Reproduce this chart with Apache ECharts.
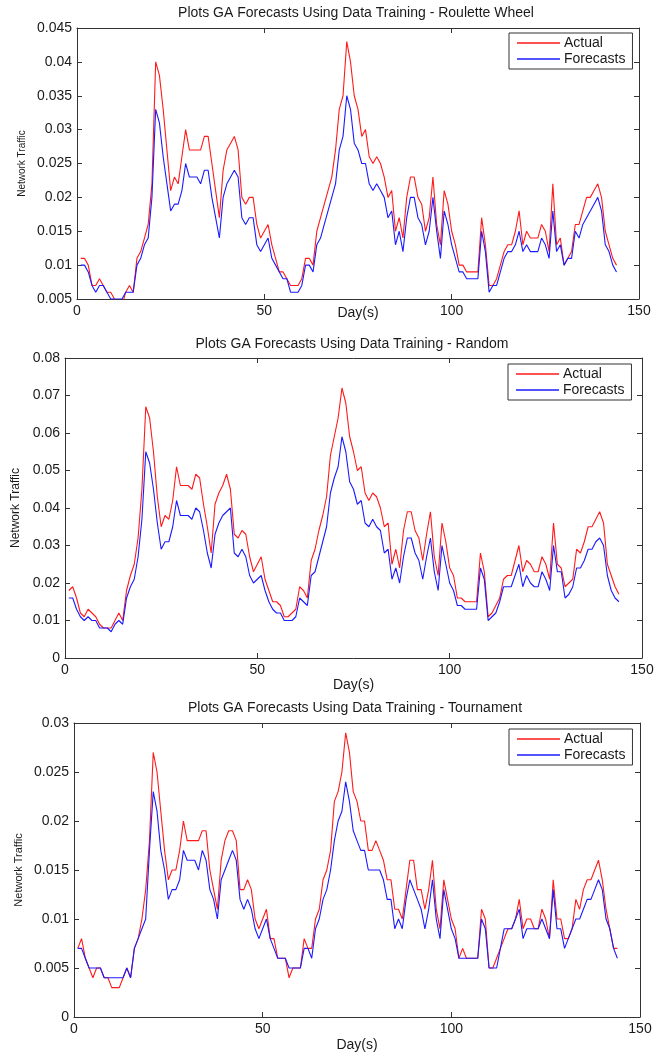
<!DOCTYPE html>
<html>
<head>
<meta charset="utf-8">
<script src="https://cdn.jsdelivr.net/npm/echarts@6/dist/echarts.min.js"></script>
<style>
html,body{margin:0;padding:0;background:#fff;}
#c{width:661px;height:1053px;}
</style>
</head>
<body>
<div id="c"></div>
<script>
// ---------------- data ----------------
const TITLES = [
  'Plots GA Forecasts Using Data Training - Roulette Wheel',
  'Plots GA Forecasts Using Data Training - Random',
  'Plots GA Forecasts Using Data Training - Tournament'
];
const SERIES_NAMES = ['Actual', 'Forecasts'];
const X_LABEL = 'Day(s)';
const Y_LABEL = 'Network Traffic';
const X_TICKS = [0, 50, 100, 150];
const Y_TICKS_1 = ['0.005','0.01','0.015','0.02','0.025','0.03','0.035','0.04','0.045'];
const Y_TICKS_2 = ['0','0.01','0.02','0.03','0.04','0.05','0.06','0.07','0.08'];
const Y_TICKS_3 = ['0','0.005','0.01','0.015','0.02','0.025','0.03'];

const ROULETTE_ACTUAL = [
 0.011,0.011,0.010,0.007,0.007,0.008,0.007,0.006,0.006,0.005,
 0.004,0.004,0.006,0.007,0.006,0.011,0.012,0.014,0.016,0.022,
 0.040,0.038,0.033,0.027,0.021,0.023,0.022,0.026,0.030,0.027,
 0.027,0.027,0.027,0.029,0.029,0.025,0.021,0.017,0.024,0.027,
 0.028,0.029,0.027,0.020,0.019,0.020,0.020,0.016,0.014,0.015,
 0.016,0.013,0.011,0.009,0.009,0.008,0.007,0.007,0.007,0.008,
 0.011,0.011,0.010,0.015,0.017,0.019,0.021,0.023,0.027,0.033,
 0.035,0.043,0.040,0.035,0.033,0.029,0.030,0.026,0.025,0.026,
 0.025,0.023,0.020,0.021,0.015,0.017,0.014,0.020,0.023,0.023,
 0.020,0.019,0.015,0.017,0.023,0.016,0.013,0.021,0.019,0.015,
 0.013,0.010,0.010,0.009,0.009,0.009,0.009,0.017,0.013,0.007,
 0.007,0.008,0.010,0.012,0.013,0.013,0.015,0.018,0.013,0.015,
 0.014,0.014,0.014,0.016,0.015,0.012,0.022,0.013,0.014,0.010,
 0.011,0.012,0.016,0.016,0.018,0.020,0.020,0.021,0.022,0.020,
 0.015,0.013,0.011,0.010];
const ROULETTE_FORECAST = [
 0.010,0.010,0.009,0.007,0.006,0.007,0.007,0.006,0.005,0.005,
 0.005,0.005,0.006,0.006,0.006,0.010,0.011,0.013,0.014,0.020,
 0.033,0.031,0.026,0.022,0.018,0.019,0.019,0.021,0.025,0.023,
 0.023,0.023,0.022,0.024,0.024,0.020,0.017,0.014,0.020,0.022,
 0.023,0.024,0.023,0.017,0.016,0.017,0.017,0.013,0.012,0.013,
 0.014,0.011,0.010,0.009,0.008,0.008,0.006,0.006,0.006,0.007,
 0.010,0.010,0.009,0.013,0.014,0.016,0.018,0.020,0.022,0.027,
 0.029,0.035,0.033,0.028,0.027,0.025,0.025,0.022,0.021,0.022,
 0.021,0.020,0.017,0.018,0.013,0.015,0.012,0.017,0.020,0.020,
 0.017,0.016,0.013,0.015,0.020,0.015,0.011,0.018,0.016,0.013,
 0.011,0.009,0.009,0.008,0.008,0.008,0.008,0.015,0.012,0.006,
 0.007,0.007,0.009,0.011,0.012,0.012,0.013,0.015,0.012,0.013,
 0.012,0.012,0.012,0.014,0.013,0.011,0.018,0.012,0.013,0.010,
 0.011,0.011,0.015,0.014,0.016,0.017,0.018,0.019,0.020,0.018,
 0.013,0.012,0.010,0.009];
const RANDOM_ACTUAL = [
 0.018,0.019,0.016,0.012,0.011,0.013,0.012,0.011,0.009,0.008,
 0.008,0.008,0.010,0.012,0.010,0.018,0.022,0.025,0.032,0.045,
 0.067,0.064,0.055,0.043,0.035,0.038,0.037,0.042,0.051,0.046,
 0.046,0.046,0.045,0.049,0.048,0.041,0.035,0.028,0.041,0.044,
 0.046,0.049,0.045,0.033,0.032,0.034,0.033,0.027,0.023,0.025,
 0.027,0.021,0.018,0.015,0.015,0.014,0.011,0.011,0.012,0.013,
 0.019,0.018,0.016,0.026,0.029,0.034,0.038,0.043,0.054,0.059,
 0.064,0.072,0.068,0.059,0.055,0.050,0.051,0.044,0.042,0.044,
 0.043,0.040,0.035,0.036,0.025,0.029,0.024,0.034,0.039,0.039,
 0.034,0.032,0.026,0.033,0.039,0.027,0.022,0.036,0.031,0.024,
 0.022,0.016,0.016,0.015,0.015,0.015,0.015,0.028,0.023,0.011,
 0.012,0.014,0.016,0.021,0.022,0.022,0.026,0.030,0.023,0.026,
 0.025,0.023,0.023,0.027,0.025,0.021,0.036,0.025,0.024,0.019,
 0.020,0.021,0.029,0.028,0.031,0.035,0.035,0.037,0.039,0.036,
 0.025,0.022,0.019,0.017];
const RANDOM_FORECAST = [
 0.016,0.016,0.013,0.011,0.010,0.011,0.010,0.010,0.008,0.008,
 0.008,0.007,0.009,0.010,0.009,0.016,0.019,0.021,0.027,0.037,
 0.055,0.052,0.045,0.036,0.029,0.031,0.031,0.035,0.042,0.038,
 0.038,0.038,0.037,0.040,0.039,0.034,0.028,0.024,0.033,0.036,
 0.038,0.039,0.040,0.028,0.027,0.029,0.027,0.022,0.020,0.021,
 0.022,0.018,0.015,0.013,0.012,0.012,0.010,0.010,0.010,0.011,
 0.016,0.015,0.014,0.022,0.023,0.027,0.031,0.035,0.044,0.048,
 0.051,0.059,0.055,0.047,0.045,0.041,0.042,0.036,0.035,0.037,
 0.035,0.034,0.028,0.029,0.021,0.024,0.020,0.027,0.032,0.032,
 0.028,0.026,0.021,0.027,0.032,0.023,0.018,0.030,0.025,0.020,
 0.018,0.014,0.014,0.013,0.013,0.013,0.013,0.024,0.021,0.010,
 0.011,0.012,0.015,0.019,0.019,0.019,0.022,0.025,0.019,0.022,
 0.020,0.019,0.019,0.023,0.021,0.018,0.030,0.023,0.023,0.016,
 0.017,0.019,0.024,0.024,0.026,0.029,0.029,0.031,0.032,0.030,
 0.022,0.018,0.016,0.015];
const TOURNAMENT_ACTUAL = [
 0.007,0.008,0.006,0.005,0.004,0.005,0.005,0.004,0.004,0.003,
 0.003,0.003,0.004,0.005,0.004,0.007,0.008,0.010,0.013,0.018,
 0.027,0.025,0.021,0.017,0.014,0.015,0.015,0.017,0.020,0.018,
 0.018,0.018,0.018,0.019,0.019,0.015,0.013,0.011,0.016,0.018,
 0.019,0.019,0.018,0.013,0.013,0.014,0.013,0.010,0.009,0.010,
 0.011,0.008,0.008,0.006,0.006,0.006,0.004,0.005,0.005,0.005,
 0.008,0.007,0.007,0.010,0.011,0.014,0.015,0.017,0.022,0.023,
 0.025,0.029,0.027,0.023,0.022,0.020,0.020,0.017,0.017,0.018,
 0.017,0.016,0.014,0.014,0.011,0.011,0.010,0.013,0.016,0.016,
 0.013,0.013,0.011,0.013,0.016,0.011,0.009,0.014,0.012,0.010,
 0.009,0.006,0.007,0.006,0.006,0.006,0.006,0.011,0.010,0.005,
 0.005,0.006,0.007,0.008,0.009,0.009,0.010,0.012,0.009,0.010,
 0.010,0.009,0.009,0.011,0.010,0.008,0.014,0.010,0.010,0.008,
 0.008,0.009,0.012,0.011,0.013,0.014,0.014,0.015,0.016,0.014,
 0.011,0.009,0.007,0.007];
const TOURNAMENT_FORECAST = [
 0.007,0.007,0.006,0.005,0.005,0.005,0.005,0.004,0.004,0.004,
 0.004,0.004,0.004,0.005,0.004,0.007,0.008,0.009,0.010,0.017,
 0.023,0.021,0.017,0.015,0.012,0.013,0.013,0.014,0.017,0.016,
 0.016,0.016,0.015,0.017,0.016,0.013,0.012,0.010,0.014,0.015,
 0.016,0.017,0.016,0.012,0.011,0.012,0.011,0.009,0.008,0.009,
 0.010,0.008,0.007,0.006,0.006,0.006,0.005,0.005,0.005,0.005,
 0.007,0.007,0.006,0.009,0.010,0.012,0.013,0.015,0.018,0.020,
 0.021,0.024,0.022,0.019,0.018,0.017,0.017,0.015,0.015,0.015,
 0.015,0.014,0.012,0.012,0.009,0.010,0.009,0.012,0.014,0.013,
 0.012,0.011,0.009,0.011,0.014,0.010,0.008,0.013,0.011,0.009,
 0.008,0.006,0.006,0.006,0.006,0.006,0.006,0.010,0.009,0.005,
 0.005,0.005,0.007,0.009,0.009,0.009,0.010,0.011,0.008,0.009,
 0.009,0.009,0.009,0.010,0.009,0.008,0.013,0.009,0.009,0.007,
 0.008,0.009,0.010,0.010,0.011,0.012,0.012,0.013,0.014,0.013,
 0.010,0.009,0.007,0.006];

// ---------------- layout / style ----------------
const FONT = 'Liberation Sans, Arial, Helvetica, sans-serif';
const TEXT = '#1a1a1a';
const AXIS = '#333333';
const RED = '#ff1a1a';
const BLUE = '#1a1aff';

const PANELS = [
  { title: TITLES[0], actual: ROULETTE_ACTUAL, forecast: ROULETTE_FORECAST, ticks: Y_TICKS_1,
    grid: {left: 77, top: 28, width: 562, height: 271}, yMin: 0.005, yMax: 0.045, yInt: 0.005,
    titleY: 6, titleX: 356, legend: {left: 509, top: 33}, yNameGap: 50, xNameGap: 7, yNameSize: 10 },
  { title: TITLES[1], actual: RANDOM_ACTUAL, forecast: RANDOM_FORECAST, ticks: Y_TICKS_2,
    grid: {left: 65, top: 358, width: 577, height: 300}, yMin: 0, yMax: 0.08, yInt: 0.01,
    titleY: 337, titleX: 352, legend: {left: 508, top: 364}, yNameGap: 43, xNameGap: 20, yNameSize: 12 },
  { title: TITLES[2], actual: TOURNAMENT_ACTUAL, forecast: TOURNAMENT_FORECAST, ticks: Y_TICKS_3,
    grid: {left: 74, top: 723, width: 566, height: 296}, yMin: 0, yMax: 0.03, yInt: 0.005,
    titleY: 701, titleX: 355, legend: {left: 509, top: 729}, yNameGap: 50, xNameGap: 21, yNameSize: 11 }
];

const option = {
  animation: false,
  backgroundColor: '#fff',
  textStyle: { fontFamily: FONT, color: TEXT },
  title: [], grid: [], xAxis: [], yAxis: [], series: [], legend: []
};

PANELS.forEach((p, i) => {
  option.grid.push(Object.assign({containLabel: false}, p.grid));
  option.title.push({
    text: p.title, left: p.titleX, top: p.titleY, textAlign: 'center', padding: 0,
    textStyle: { fontFamily: FONT, fontSize: 14, fontWeight: 'normal', color: TEXT }
  });
  const tickCommon = { show: true, inside: true, length: 5, lineStyle: { color: AXIS, width: 1 } };
  // bottom x
  option.xAxis.push({
    type: 'value', gridIndex: i, min: 0, max: 150, interval: 50, position: 'bottom',
    name: X_LABEL, nameLocation: 'middle', nameGap: p.xNameGap, nameMoveOverlap: false,
    nameTextStyle: { fontFamily: FONT, fontSize: 14, color: TEXT, verticalAlign: 'top' },
    axisLine: { show: true, onZero: false, lineStyle: { color: AXIS, width: 1 } },
    axisTick: tickCommon, splitLine: { show: false },
    axisLabel: { show: true, margin: 5, fontFamily: FONT, fontSize: 14, color: TEXT,
      formatter: v => String(X_TICKS[X_TICKS.indexOf(v)] ?? v) }
  });
  // top x (frame)
  option.xAxis.push({
    type: 'value', gridIndex: i, min: 0, max: 150, interval: 50, position: 'top',
    axisLine: { show: true, onZero: false, lineStyle: { color: AXIS, width: 1 } },
    axisTick: tickCommon, axisLabel: { show: false }, splitLine: { show: false }
  });
  const ticks = p.ticks;
  // left y
  option.yAxis.push({
    type: 'value', gridIndex: i, min: p.yMin, max: p.yMax, interval: p.yInt, position: 'left',
    name: Y_LABEL, nameLocation: 'middle', nameGap: p.yNameGap, nameRotate: 90, nameMoveOverlap: false,
    nameTextStyle: { fontFamily: FONT, fontSize: p.yNameSize, color: TEXT },
    axisLine: { show: true, onZero: false, lineStyle: { color: AXIS, width: 1 } },
    axisTick: tickCommon, splitLine: { show: false },
    axisLabel: { show: true, margin: 5, fontFamily: FONT, fontSize: 14, color: TEXT,
      formatter: v => {
        const s = String(Number(v.toFixed(4)));
        const k = ticks.indexOf(s);
        return k >= 0 ? ticks[k] : s;
      } }
  });
  // right y (frame)
  option.yAxis.push({
    type: 'value', gridIndex: i, min: p.yMin, max: p.yMax, interval: p.yInt, position: 'right',
    axisLine: { show: true, onZero: false, lineStyle: { color: AXIS, width: 1 } },
    axisTick: tickCommon, axisLabel: { show: false }, splitLine: { show: false }
  });
  const xi = i * 2, yi = i * 2;
  const mk = arr => arr.map((v, k) => [k + 1, v]);
  option.series.push({
    name: SERIES_NAMES[0], type: 'line', xAxisIndex: xi, yAxisIndex: yi,
    data: mk(p.actual), showSymbol: false, symbol: 'none', clip: true,
    lineStyle: { color: RED, width: 1.1 }, itemStyle: { color: RED }
  });
  option.series.push({
    name: SERIES_NAMES[1], type: 'line', xAxisIndex: xi, yAxisIndex: yi,
    data: mk(p.forecast), showSymbol: false, symbol: 'none', clip: true,
    lineStyle: { color: BLUE, width: 1.1 }, itemStyle: { color: BLUE }
  });
  option.legend.push({
    data: SERIES_NAMES, orient: 'vertical', left: p.legend.left, top: p.legend.top,
    backgroundColor: '#fff', borderColor: AXIS, borderWidth: 1,
    padding: [3, 7, 3, 8], itemGap: 2, itemWidth: 43, itemHeight: 1.5, icon: 'rect',
    textStyle: { fontFamily: FONT, fontSize: 14, color: TEXT, padding: [0, 0, 0, -1] },
    selectedMode: false
  });
});

const chart = echarts.init(document.getElementById('c'), null, { renderer: 'canvas' });
chart.setOption(option);
</script>
</body>
</html>
